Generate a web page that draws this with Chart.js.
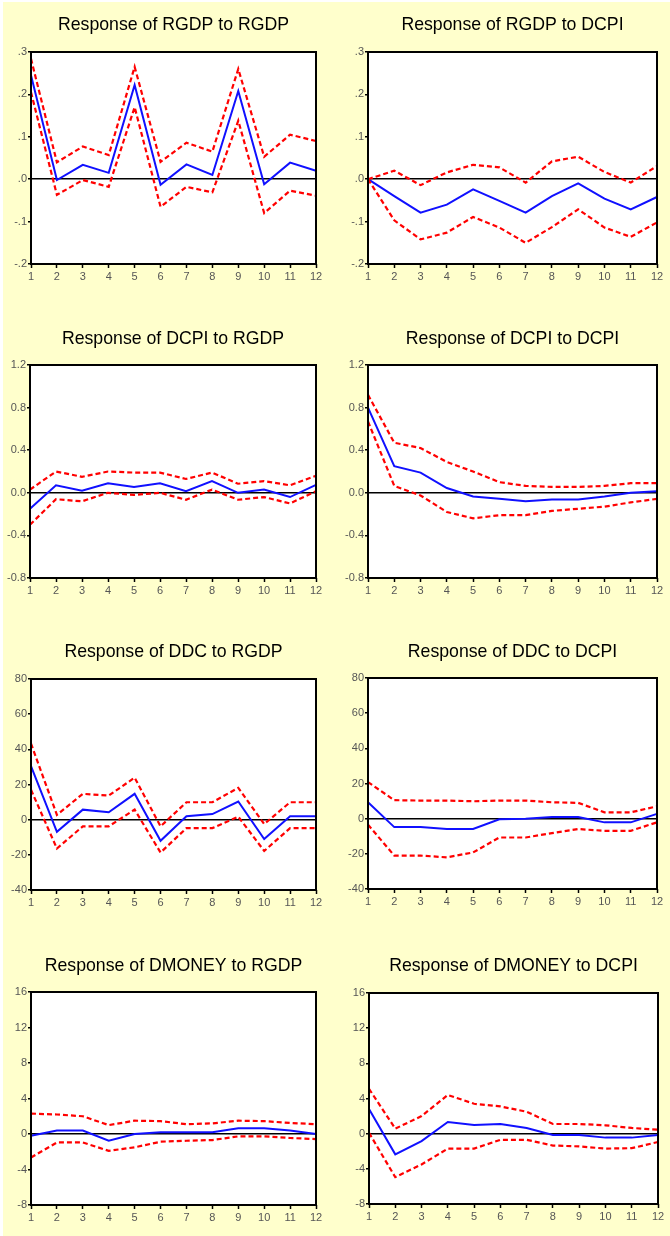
<!DOCTYPE html>
<html><head><meta charset="utf-8">
<script src="https://cdn.jsdelivr.net/npm/chart.js@4.4.1/dist/chart.umd.min.js"></script>
<style>
html,body{margin:0;padding:0;background:#fff;width:670px;height:1236px;overflow:hidden;}
#bg{position:absolute;left:3px;top:2px;width:667px;height:1234px;background:#FFFFCC;}
canvas{position:absolute;}
</style></head><body><div id="bg"></div>
<script>
// ---- data ----
const periods = ['1','2','3','4','5','6','7','8','9','10','11','12'];

const titles = [
  'Response of RGDP to RGDP', 'Response of RGDP to DCPI',
  'Response of DCPI to RGDP', 'Response of DCPI to DCPI',
  'Response of DDC to RGDP', 'Response of DDC to DCPI',
  'Response of DMONEY to RGDP', 'Response of DMONEY to DCPI'
];

// tick values and labels
const rgdpTicks = [-0.2,-0.1,0,0.1,0.2,0.3];
const rgdpTickLabels = ['-.2','-.1','.0','.1','.2','.3'];
const dcpiTicks = [-0.8,-0.4,0,0.4,0.8,1.2];
const dcpiTickLabels = ['-0.8','-0.4','0.0','0.4','0.8','1.2'];
const ddcTicks = [-40,-20,0,20,40,60,80];
const ddcTickLabels = ['-40','-20','0','20','40','60','80'];
const dmoneyTicks = [-8,-4,0,4,8,12,16];
const dmoneyTickLabels = ['-8','-4','0','4','8','12','16'];

// Response of RGDP to RGDP
const rgdpRgdp      = [0.245,-0.002,0.034,0.015,0.222,-0.013,0.035,0.010,0.208,-0.012,0.039,0.020];
const rgdpRgdpUpper = [0.284,0.040,0.077,0.057,0.265,0.041,0.086,0.065,0.260,0.053,0.105,0.090];
const rgdpRgdpLower = [0.205,-0.037,-0.002,-0.018,0.170,-0.065,-0.018,-0.031,0.138,-0.080,-0.027,-0.039];
// Response of RGDP to DCPI
const rgdpDcpi      = [0,-0.040,-0.079,-0.060,-0.024,-0.051,-0.079,-0.040,-0.010,-0.046,-0.071,-0.042];
const rgdpDcpiUpper = [0,0.020,-0.014,0.016,0.034,0.028,-0.008,0.042,0.053,0.017,-0.008,0.031];
const rgdpDcpiLower = [0,-0.097,-0.142,-0.126,-0.089,-0.114,-0.150,-0.113,-0.071,-0.114,-0.136,-0.102];
// Response of DCPI to RGDP
const dcpiRgdp      = [-0.15,0.07,0.02,0.09,0.055,0.09,0.015,0.11,0.0,0.03,-0.04,0.075];
const dcpiRgdpUpper = [0.03,0.20,0.15,0.20,0.19,0.19,0.13,0.19,0.085,0.11,0.07,0.16];
const dcpiRgdpLower = [-0.30,-0.06,-0.08,0.0,-0.02,0.0,-0.065,0.03,-0.065,-0.04,-0.10,0.015];
// Response of DCPI to DCPI
const dcpiDcpi      = [0.80,0.25,0.19,0.045,-0.035,-0.057,-0.08,-0.063,-0.063,-0.035,0.0,0.015];
const dcpiDcpiUpper = [0.92,0.47,0.42,0.29,0.20,0.10,0.065,0.055,0.055,0.065,0.09,0.09];
const dcpiDcpiLower = [0.67,0.065,-0.025,-0.18,-0.24,-0.21,-0.21,-0.17,-0.15,-0.13,-0.09,-0.057];
// Response of DDC to RGDP
const ddcRgdp      = [30.5,-6.9,5.7,4.2,14.7,-12,1.9,3.2,10.3,-11,1.9,1.9];
const ddcRgdpUpper = [43.3,2.7,14.7,13.7,23.9,-3.8,9.9,9.9,18.1,-2.5,9.9,9.9];
const ddcRgdpLower = [17,-16.4,-3.8,-3.8,5.7,-18.7,-4.8,-4.8,1.7,-17.8,-4.8,-4.8];
// Response of DDC to DCPI
const ddcDcpi      = [9.3,-4.8,-4.8,-5.9,-5.9,-0.3,0,1,1,-2.1,-2.1,2.7];
const ddcDcpiUpper = [20.8,10.5,10.3,10.3,9.9,10.3,10.3,9.3,9,3.6,3.6,7];
const ddcDcpiLower = [-3.4,-21,-21,-22,-19.2,-10.7,-10.7,-8.2,-5.9,-6.9,-6.9,-2.1];
// Response of DMONEY to RGDP
const dmoneyRgdp      = [-0.2,0.4,0.4,-0.75,0,0.2,0.2,0.2,0.65,0.65,0.4,0];
const dmoneyRgdpUpper = [2.3,2.2,2.0,1.0,1.5,1.45,1.1,1.2,1.5,1.45,1.25,1.1];
const dmoneyRgdpLower = [-2.65,-0.95,-0.95,-1.9,-1.5,-0.87,-0.76,-0.68,-0.27,-0.27,-0.45,-0.57];
// Response of DMONEY to DCPI
const dmoneyDcpi      = [2.8,-2.35,-0.84,1.33,1.0,1.1,0.65,-0.15,-0.15,-0.45,-0.45,-0.15];
const dmoneyDcpiUpper = [5.1,0.57,2.0,4.4,3.4,3.1,2.5,1.1,1.1,0.95,0.65,0.45];
const dmoneyDcpiLower = [0.1,-4.95,-3.5,-1.7,-1.7,-0.7,-0.7,-1.35,-1.45,-1.7,-1.65,-0.95];

// ---- panels (data references) ----
const panelData = [
  [rgdpRgdp, rgdpRgdpUpper, rgdpRgdpLower, rgdpTicks, rgdpTickLabels],
  [rgdpDcpi, rgdpDcpiUpper, rgdpDcpiLower, rgdpTicks, rgdpTickLabels],
  [dcpiRgdp, dcpiRgdpUpper, dcpiRgdpLower, dcpiTicks, dcpiTickLabels],
  [dcpiDcpi, dcpiDcpiUpper, dcpiDcpiLower, dcpiTicks, dcpiTickLabels],
  [ddcRgdp, ddcRgdpUpper, ddcRgdpLower, ddcTicks, ddcTickLabels],
  [ddcDcpi, ddcDcpiUpper, ddcDcpiLower, ddcTicks, ddcTickLabels],
  [dmoneyRgdp, dmoneyRgdpUpper, dmoneyRgdpLower, dmoneyTicks, dmoneyTickLabels],
  [dmoneyDcpi, dmoneyDcpiUpper, dmoneyDcpiLower, dmoneyTicks, dmoneyTickLabels]
];

// ---- layout (plot area in page px: left, top, right, bottom, title centre y) ----
const layoutBoxes = [
  [31, 52, 316, 264, 25.5],
  [368, 52, 657, 264, 25.5],
  [30, 365, 316, 578, 339.5],
  [368, 365, 657, 578, 339.5],
  [31, 679, 316, 890, 652.5],
  [368, 678, 657, 889, 652.5],
  [31, 992, 316, 1205, 966],
  [369, 993, 658, 1204, 966]
];

const AXW = 30, TOPH = 48, XAH = 24, PADR = 10, PADB = 6;
const TFS = 17.7, TLH = TFS * 1.2;

const framePlugin = {
  id: 'frame',
  beforeDraw(chart) {
    const {ctx, chartArea: a} = chart;
    ctx.save();
    ctx.fillStyle = '#fff';
    ctx.fillRect(a.left, a.top, a.right - a.left, a.bottom - a.top);
    ctx.restore();
  },
  afterDraw(chart) {
    const {ctx, chartArea: a} = chart;
    ctx.save();
    ctx.strokeStyle = '#000';
    ctx.lineWidth = 2;
    ctx.strokeRect(a.left, a.top, a.right - a.left, a.bottom - a.top);
    ctx.restore();
  }
};

panelData.forEach((pd, i) => {
  const [blue, upper, lower, ticks, tickLabels] = pd;
  const [L, T, R, B, Ty] = layoutBoxes[i];
  const cl = L - AXW, ct = T - TOPH;
  const cw = R - cl + PADR, ch = B - ct + XAH + PADB;
  const cv = document.createElement('canvas');
  cv.width = cw; cv.height = ch;
  cv.style.left = cl + 'px'; cv.style.top = ct + 'px';
  cv.style.width = cw + 'px'; cv.style.height = ch + 'px';
  document.body.appendChild(cv);
  const tPadTop = Ty - ct - TLH / 2;
  const tPadBot = TOPH - TLH - tPadTop;
  const redDs = (d) => ({
    data: d, borderColor: '#FF0000', borderWidth: 2.2, borderDash: [5, 3],
    pointRadius: 0, tension: 0, fill: false
  });
  new Chart(cv, {
    type: 'line',
    data: {
      labels: periods,
      datasets: [
        redDs(upper),
        redDs(lower),
        { data: blue, borderColor: '#1010FF', borderWidth: 2, pointRadius: 0, tension: 0, fill: false }
      ]
    },
    options: {
      responsive: false,
      animation: false,
      devicePixelRatio: 1,
      layout: { padding: { left: 0, top: 0, right: PADR, bottom: PADB } },
      plugins: {
        legend: { display: false },
        tooltip: { enabled: false },
        title: {
          display: true, text: titles[i], color: '#000', fullSize: false,
          font: { family: 'Liberation Sans, Arial, sans-serif', size: TFS, weight: 'normal', lineHeight: 1.2 },
          padding: { top: tPadTop, bottom: tPadBot }
        }
      },
      scales: {
        x: {
          type: 'category', offset: false,
          afterFit: (s) => { s.height = XAH; },
          border: { display: false },
          grid: { display: true, drawOnChartArea: false, drawTicks: true, tickLength: 4, tickColor: '#000', tickWidth: 1.5 },
          ticks: { autoSkip: false, maxRotation: 0, padding: 2, color: '#555',
                   font: { family: 'Liberation Sans, Arial, sans-serif', size: 11 } }
        },
        y: {
          min: ticks[0], max: ticks[ticks.length - 1],
          afterFit: (s) => { s.width = AXW; },
          afterBuildTicks: (s) => { s.ticks = ticks.map(v => ({ value: v })); },
          border: { display: false },
          grid: {
            drawTicks: true, tickLength: 3, tickColor: '#000', tickWidth: 1.5,
            color: (c) => (c.tick && c.tick.value === 0) ? '#000' : 'rgba(0,0,0,0)',
            lineWidth: 1.5
          },
          ticks: {
            padding: 1, color: '#555',
            font: { family: 'Liberation Sans, Arial, sans-serif', size: 11 },
            callback: (v) => { const k = ticks.indexOf(v); return k >= 0 ? tickLabels[k] : ''; }
          }
        }
      }
    },
    plugins: [framePlugin]
  });
});
</script>
</body></html>
